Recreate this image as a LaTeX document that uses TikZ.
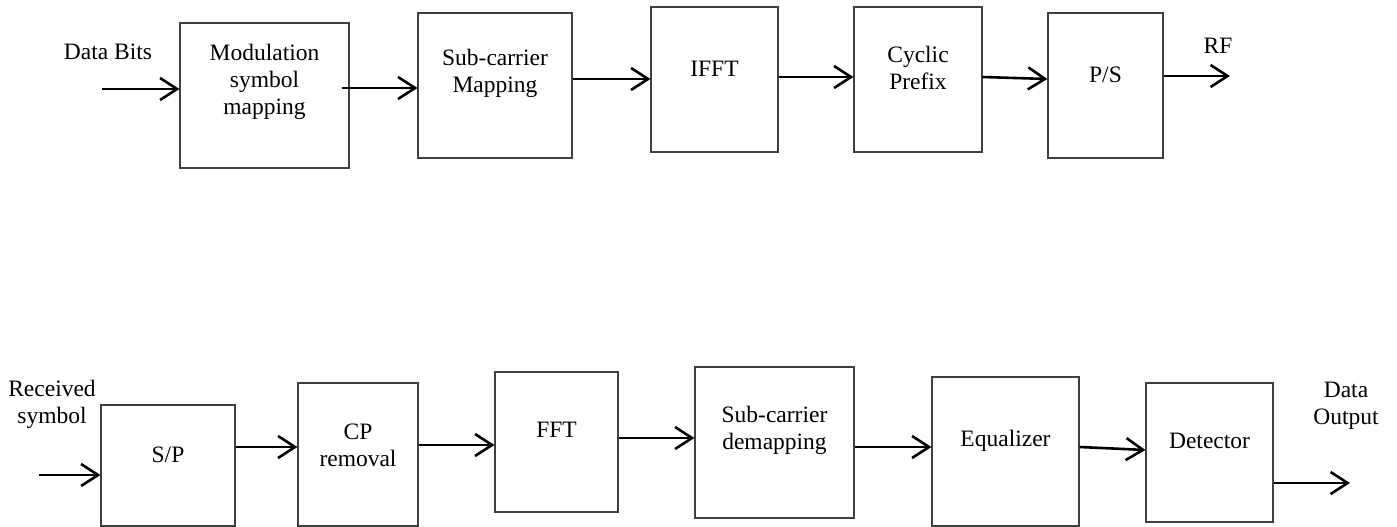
\documentclass[tikz,border=0pt]{standalone}
\usepackage{fontspec}
\setmainfont{Liberation Serif}
\usetikzlibrary{arrows.meta}
\tikzset{
  blk/.style={draw=black!75, line width=1.1pt, rectangle, inner sep=0pt},
  txt/.style={align=center, inner sep=0pt, font=\fontsize{23.5}{27}\selectfont},
  arr/.style={line width=2.6pt, -{Straight Barb[length=17pt,width=22pt]}},
}
\begin{document}
\begin{tikzpicture}[x=1pt,y=-1pt]
\useasboundingbox (0,0) rectangle (1397,527);
% ---- top row ----
\node[blk, minimum width=169pt, minimum height=145pt] (mod) at (264.5,95.5) {};
\node[blk, minimum width=154pt, minimum height=145pt] (sub) at (495,85.5) {};
\node[blk, minimum width=127pt, minimum height=145pt] (ifft) at (714.5,79.5) {};
\node[blk, minimum width=128pt, minimum height=145pt] (cp) at (918,79.5) {};
\node[blk, minimum width=115pt, minimum height=145pt] (ps) at (1105.5,85.5) {};
\node[txt] (tmod) at (264.5,82) {Modulation\\symbol\\mapping};
\node[txt] (tsub) at (495,73) {Sub-carrier\\Mapping};
\node[txt] (tifft) at (714.5,69) {IFFT};
\node[txt] (tcp) at (918,68) {Cyclic\\Prefix};
\node[txt] (tps) at (1105.5,75) {P/S};
\node[txt] (databits) at (108,52) {Data Bits};
\node[txt] (rf) at (1218,46) {RF};
\coordinate (inA) at (102,89);
\coordinate (outA) at (1230,76);
\draw[arr] (inA) -- (mod.west |- inA);
\draw[arr] ([xshift=-8pt]mod.east |- 0,88) -- (sub.west |- 0,88);
\draw[arr] (sub.east |- 0,79) -- (ifft.west |- 0,79);
\draw[arr] (ifft.east |- 0,77) -- (cp.west |- 0,77);
\draw[arr] (cp.east |- 0,77) -- (ps.west |- 0,79);
\draw[arr] (ps.east |- outA) -- (outA);
% ---- bottom row ----
\node[blk, minimum width=134pt, minimum height=121pt] (sp) at (168,465.5) {};
\node[blk, minimum width=120pt, minimum height=143pt] (cpr) at (358,454.5) {};
\node[blk, minimum width=123pt, minimum height=140pt] (fft) at (556.5,442) {};
\node[blk, minimum width=159pt, minimum height=151pt] (sdm) at (774.5,442.5) {};
\node[blk, minimum width=147pt, minimum height=149pt] (eq) at (1005.5,451.5) {};
\node[blk, minimum width=127pt, minimum height=139pt] (det) at (1209.5,452.5) {};
\node[txt] (tsp) at (168,455) {S/P};
\node[txt] (tcpr) at (358,445) {CP\\removal};
\node[txt] (tfft) at (556.5,430) {FFT};
\node[txt] (tsdm) at (774.5,430) {Sub-carrier\\demapping};
\node[txt] (teq) at (1005.5,441) {Equalizer};
\node[txt] (tdet) at (1209.5,441) {Detector};
\node[txt] (rec) at (52,404) {Received\\symbol};
\node[txt] (dout) at (1346,406) {Data\\Output};
\coordinate (inB) at (39,475);
\coordinate (outB) at (1350,483);
\draw[arr] (inB) -- (sp.west |- inB);
\draw[arr] (sp.east |- 0,447) -- (cpr.west |- 0,447);
\draw[arr] (cpr.east |- 0,445) -- (fft.west |- 0,445);
\draw[arr] (fft.east |- 0,438) -- (sdm.west |- 0,438);
\draw[arr] (sdm.east |- 0,447) -- (eq.west |- 0,447);
\draw[arr] (eq.east |- 0,447) -- (det.west |- 0,450);
\draw[arr] (det.east |- outB) -- (outB);
\end{tikzpicture}
\end{document}
